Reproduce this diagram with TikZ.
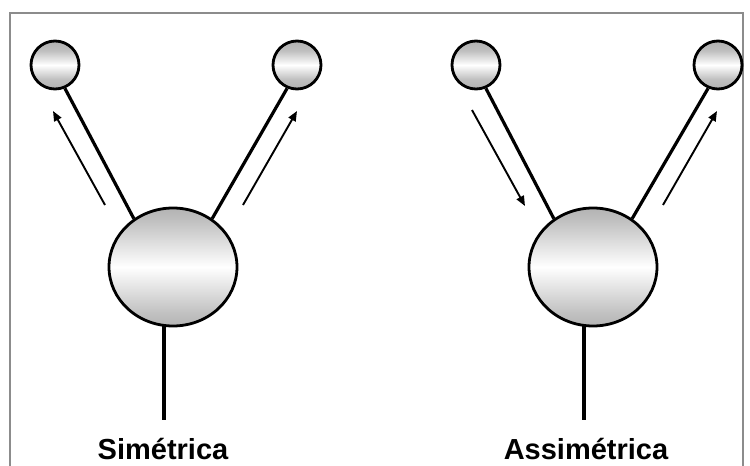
\documentclass[tikz,border=0pt]{standalone}
\usepackage{fontspec}
\setmainfont{Liberation Sans}
\usetikzlibrary{shapes.geometric,arrows.meta,backgrounds}
\pgfdeclareverticalshading{smallball}{100bp}{color(0bp)=(black!45); color(35bp)=(black!25); color(50bp)=(white); color(65bp)=(black!25); color(100bp)=(black!45)}
\pgfdeclareverticalshading{bigball}{100bp}{color(0bp)=(black!50); color(30bp)=(black!25); color(50bp)=(white); color(70bp)=(black!25); color(100bp)=(black!55)}
\tikzset{
  smallc/.style={circle, draw=black, line width=2.8pt, minimum size=48pt, inner sep=0pt, shading=smallball},
  bigc/.style={ellipse, draw=black, line width=2.8pt, minimum width=128pt, minimum height=118pt, inner sep=0pt, shading=bigball},
  stem/.style={line width=3.2pt, black},
  flow/.style={line width=1.9pt, black, -{Triangle[length=10pt,width=8pt]}},
  lbl/.style={font=\bfseries\fontsize{29}{34}\selectfont, anchor=base}
}
\begin{document}
\begin{tikzpicture}[x=1pt,y=-1pt]
\useasboundingbox (0,0) rectangle (750,466);
\clip (0,0) rectangle (750,466);

% left (symmetric)
\node[bigc] (b1) at (173,267) {};
\node[smallc] (s1) at (55,65) {};
\node[smallc] (s2) at (297,65) {};
\coordinate (st1) at (164,420);
\coordinate (a1s) at (105,205);
\coordinate (a1e) at (53,111);
\coordinate (a2s) at (243,205);
\coordinate (a2e) at (297,111);
\draw[flow] (a1s) -- (a1e);
\draw[flow] (a2s) -- (a2e);
\node[lbl] (t1) at (163,459) {Simétrica};

% right (asymmetric)
\node[bigc] (b2) at (593,267) {};
\node[smallc] (s3) at (476,65) {};
\node[smallc] (s4) at (718,65) {};
\coordinate (st2) at (584,420);
\coordinate (a3s) at (472,110);
\coordinate (a3e) at (525,206);
\coordinate (a4s) at (663,205);
\coordinate (a4e) at (717,111);
\draw[flow] (a3s) -- (a3e);
\draw[flow] (a4s) -- (a4e);
\node[lbl] (t2) at (586,459) {Assimétrica};

\begin{scope}[on background layer]
\fill[white] (0,0) rectangle (750,466);
\draw[black!45, line width=2.5pt] (10,13) rectangle (743,490);
\draw[stem] (s1.-67) -- (b1.129);
\draw[stem] (s2.-113) -- (b1.51);
\draw[stem] (b1.center -| st1) -- (st1);
\draw[stem] (s3.-67) -- (b2.129);
\draw[stem] (s4.-113) -- (b2.51);
\draw[stem] (b2.center -| st2) -- (st2);
\end{scope}
\end{tikzpicture}
\end{document}
